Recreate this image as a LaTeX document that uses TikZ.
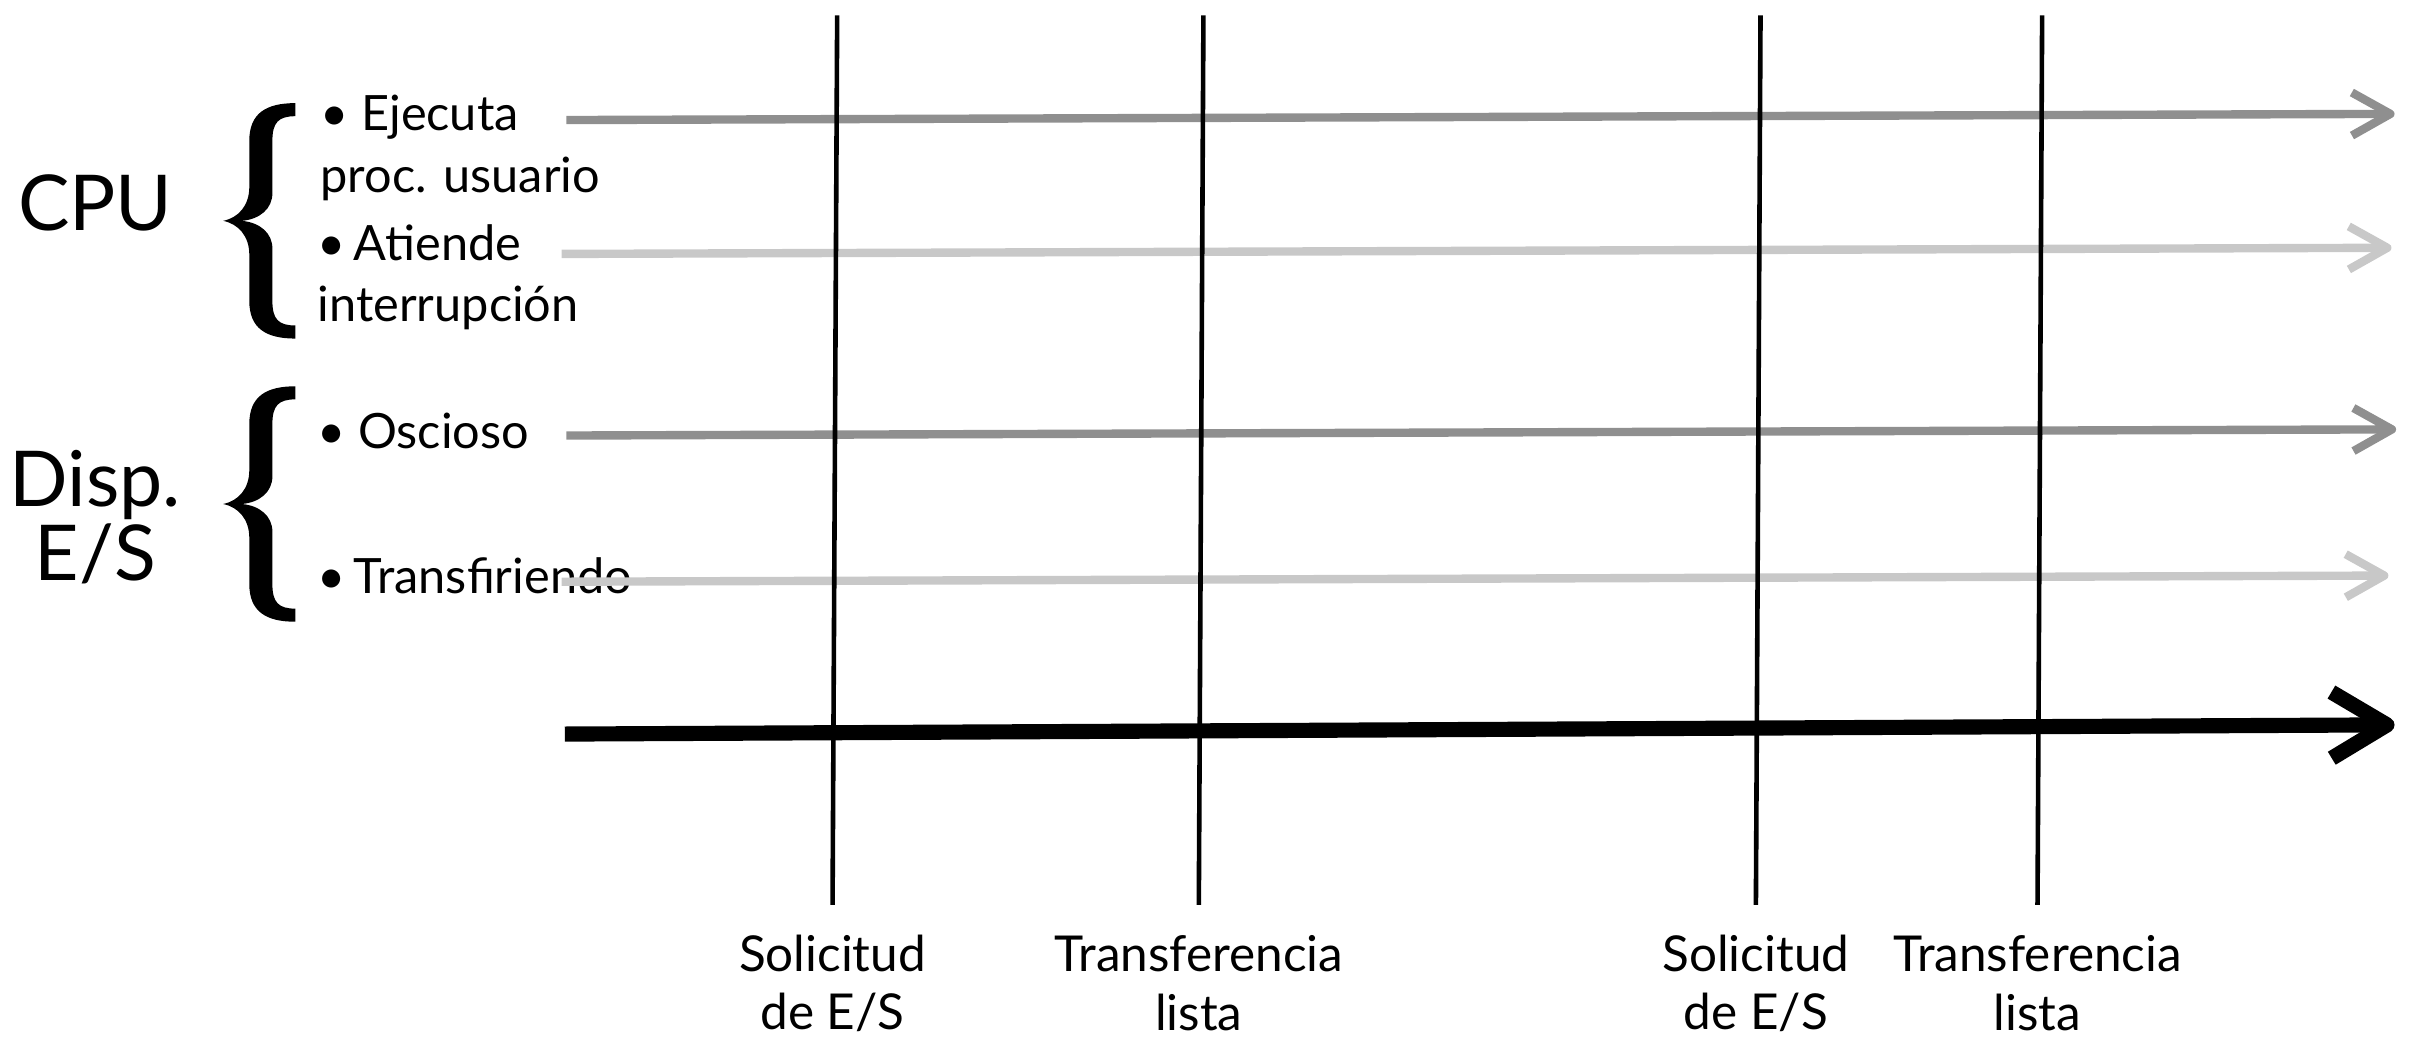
\documentclass[tikz,border=0pt]{standalone}
\usepackage{fontspec}
\setmainfont{Lato}
\usetikzlibrary{arrows.meta}
\definecolor{busy}{HTML}{8F8F8F}
\definecolor{light}{HTML}{C8C8C8}
\begin{document}
\begin{tikzpicture}[x=0.02cm,y=-0.02cm,
  bigword/.style={font=\fontsize{28.5}{27.2}\selectfont, align=center, inner sep=0pt},
  item/.style={font=\fontsize{18}{22.7}\selectfont, align=left, anchor=west, inner sep=0pt},
  mark label/.style={font=\fontsize{18.3}{21.7}\selectfont, align=center, inner sep=0pt},
  track/.style={line width=3.1pt, -{Straight Barb[length=0.5cm,width=0.56cm,line join=round]}},
  timeline/.style={line width=5.6pt, -{Straight Barb[length=0.72cm,width=0.86cm,line join=round]}},
  event/.style={line width=1.7pt},
  curly/.pic={
    \fill (47,-76.5) -- (47,-68) .. controls (36,-68) and (32,-64) .. (32,-52)
      -- (32,-18) .. controls (32,-8) and (24,-1) .. (12,0)
      .. controls (24,1) and (32,8) .. (32,18) -- (32,52)
      .. controls (32,64) and (36,68) .. (47,68) -- (47,76.5)
      .. controls (28,76.5) and (17,70) .. (17,52) -- (17,22)
      .. controls (17,10) and (10,2) .. (0,0)
      .. controls (10,-2) and (17,-10) .. (17,-22) -- (17,-52)
      .. controls (17,-70) and (28,-76.5) .. (47,-76.5) -- cycle;
  }]
\useasboundingbox (0,0) rectangle (1568,674);

% group titles and braces
\node[bigword] (cpu) at (62,132) {CPU};
\node[bigword] (dev) at (62,336) {Disp.\\E/S};
\pic (bracecpu) at (145,143.5) {curly};
\pic (bracedev) at (145,327.5) {curly};

% state items
\node[item] (run)  at (208,96)  {• Ejecuta\\proc. usuario};
\node[item] (intr) at (206,180) {•\,Atiende\\interrupción};
\node[item] (idle) at (206,280) {• Oscioso};
\node[item] (xfer) at (206,374) {•\,Transfiriendo};

% track end points
\coordinate (s1) at (368,78);  \coordinate (e1) at (1556,74);
\coordinate (s2) at (365,165); \coordinate (e2) at (1554,161);
\coordinate (s3) at (368,283); \coordinate (e3) at (1557,279);
\coordinate (s4) at (365,378); \coordinate (e4) at (1552,374);
\coordinate (s5) at (367,477); \coordinate (e5) at (1556,471);

\draw[track, busy]  (s1) -- (e1);
\draw[track, light] (s2) -- (e2);
\draw[track, busy]  (s3) -- (e3);
\draw[track, light] (s4) -- (e4);
\draw[timeline] (s5) -- (e5);

% event markers
\coordinate (t1) at (544,10);  \coordinate (b1) at (541,588);
\coordinate (t2) at (782,10);  \coordinate (b2) at (779,588);
\coordinate (t3) at (1144,10); \coordinate (b3) at (1141,588);
\coordinate (t4) at (1327,10); \coordinate (b4) at (1324,588);
\draw[event] (t1) -- (b1);
\draw[event] (t2) -- (b2);
\draw[event] (t3) -- (b3);
\draw[event] (t4) -- (b4);

\node[mark label] (req1) at (541,639) {Solicitud\\de E/S};
\node[mark label] (rdy1) at (779,639) {Transferencia\\lista};
\node[mark label] (req2) at (1141,639) {Solicitud\\de E/S};
\node[mark label] (rdy2) at (1324,639) {Transferencia\\lista};
\end{tikzpicture}
\end{document}
